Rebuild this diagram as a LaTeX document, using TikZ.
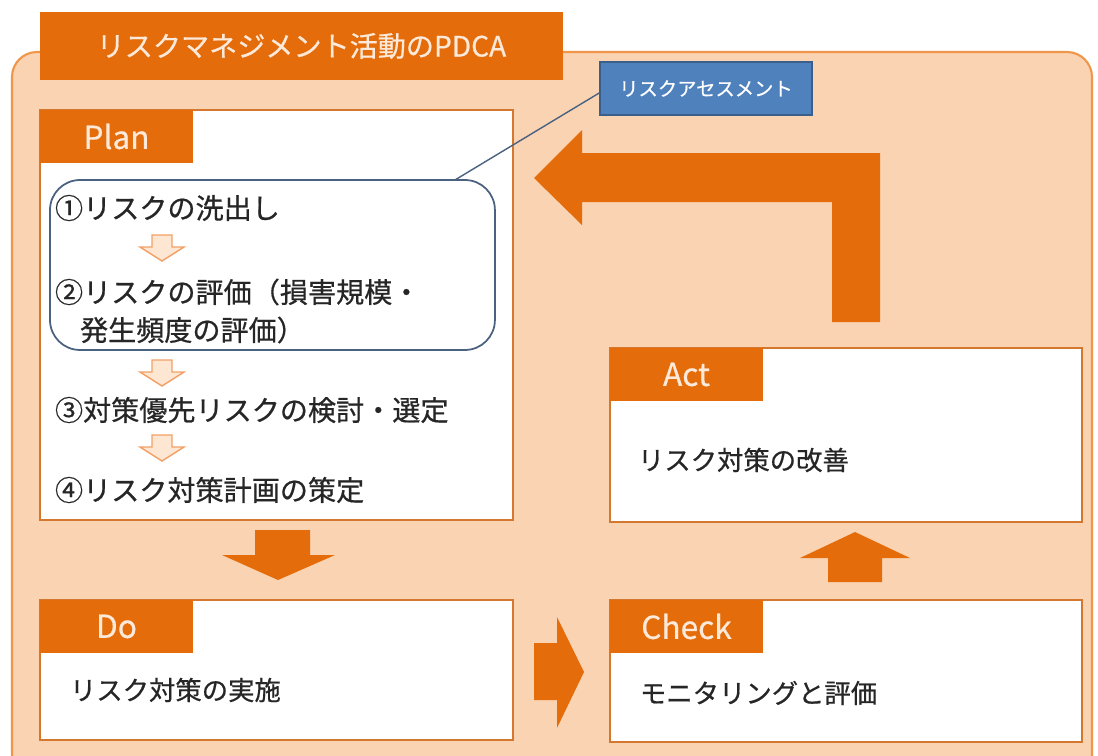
\documentclass[tikz,border=0pt]{standalone}
\usepackage{fontspec}
\setmainfont{Noto Sans CJK JP}[FakeBold=0.6]
\usetikzlibrary{calc}
\definecolor{pdcaorange}{HTML}{E46C0A}
\definecolor{peach}{HTML}{FAD3B3}
\definecolor{frameline}{HTML}{F0964A}
\definecolor{boxline}{HTML}{D4772F}
\definecolor{tagtext}{HTML}{FDE9D9}
\definecolor{ink}{HTML}{262626}
\definecolor{assessblue}{HTML}{4F81BD}
\definecolor{assessline}{HTML}{3A5F8C}
\definecolor{riskline}{HTML}{4A6280}
\definecolor{softline}{HTML}{F2A066}
\definecolor{softfill}{HTML}{FDE6D2}
\begin{document}
\begin{tikzpicture}[x=0.02cm, y=-0.02cm,
  every node/.style={inner sep=0pt, outer sep=0pt},
  panel/.style={draw=boxline, line width=1.2pt, fill=white, anchor=north west},
  tag/.style={fill=pdcaorange, text=tagtext, anchor=north west, minimum width=3.06cm, minimum height=1.06cm, font=\fontsize{18}{20}\selectfont},
  item/.style={anchor=west, text=ink, font=\fontsize{16}{18}\selectfont},
  body/.style={anchor=west, text=ink, font=\fontsize{15}{17}\selectfont},
  bigarrow/.style={fill=pdcaorange},
  smallarrow/.style={draw=softline, fill=softfill, line width=0.8pt}]
  \useasboundingbox (0,0) rectangle (1098,755);
  % background frame
  \draw [draw=frameline, line width=1.2pt, fill=peach, rounded corners=0.5cm] (12,52) rectangle (1092,780);
  \node [fill=pdcaorange, text=tagtext, anchor=north west, minimum width=10.46cm, minimum height=1.36cm, font=\fontsize{16}{18}\selectfont] (title) at (40,12) {リスクマネジメント活動のPDCA};
  % Plan
  \node [panel, minimum width=9.46cm, minimum height=8.2cm] (plan) at (40,110) {};
  \node [tag] (plantag) at (plan.north west) {Plan};
  \node [draw=riskline, line width=1pt, fill=white, rounded corners=0.6cm, anchor=north west, minimum width=8.9cm, minimum height=3.4cm] (riskbox) at (50,180) {};
  \node [item] (s1) at (55,208) {①リスクの洗出し};
  \node [item] (s2) at (55,292) {②リスクの評価（損害規模・};
  \node [item] (s2b) at (80,330) {発生頻度の評価）};
  \node [item] (s3) at (55,410) {③対策優先リスクの検討・選定};
  \node [item] (s4) at (55,490) {④リスク対策計画の策定};
  \foreach \y in {235,360,435}
    \draw [smallarrow] (152,\y) -- (172,\y) -- (172,\y+12) -- (184,\y+12) -- (162,\y+26) -- (140,\y+12) -- (152,\y+12) -- cycle;
  % Do
  \node [panel, minimum width=9.46cm, minimum height=2.8cm] (do) at (40,600) {};
  \node [tag] (dotag) at (do.north west) {Do};
  \node [body] (dotext) at (70,690) {リスク対策の実施};
  % Check
  \node [panel, minimum width=9.44cm, minimum height=2.84cm] (check) at (610,600) {};
  \node [tag] (checktag) at (check.north west) {Check};
  \node [body] (checktext) at (640,693) {モニタリングと評価};
  % Act
  \node [panel, minimum width=9.44cm, minimum height=3.48cm] (act) at (610,348) {};
  \node [tag] (acttag) at (act.north west) {Act};
  \node [body] (acttext) at (638,460) {リスク対策の改善};
  % block arrows
  \fill [bigarrow] (255,530) -- (310,530) -- (310,555) -- (335,555) -- (278,580) -- (222,555) -- (255,555) -- cycle;
  \fill [bigarrow] (534,643) -- (557,643) -- (557,617) -- (584,672) -- (557,728) -- (557,700) -- (534,700) -- cycle;
  \fill [bigarrow] (828,582) -- (828,558) -- (800,558) -- (855,532) -- (910,558) -- (882,558) -- (882,582) -- cycle;
  \fill [bigarrow] (534,178) -- (582,130) -- (582,153) -- (880,153) -- (880,322) -- (832,322) -- (832,202) -- (582,202) -- (582,225) -- cycle;
  % risk assessment label
  \node [draw=assessline, line width=1pt, fill=assessblue, text=white, anchor=north west, minimum width=4.24cm, minimum height=1.06cm, font=\fontsize{11}{13}\selectfont] (assess) at (600,62) {リスクアセスメント};
  \draw [riskline, line width=0.8pt] ($(assess.west)+(0,4)$) -- ($(riskbox.north east)+(-40,0)$);
\end{tikzpicture}
\end{document}
